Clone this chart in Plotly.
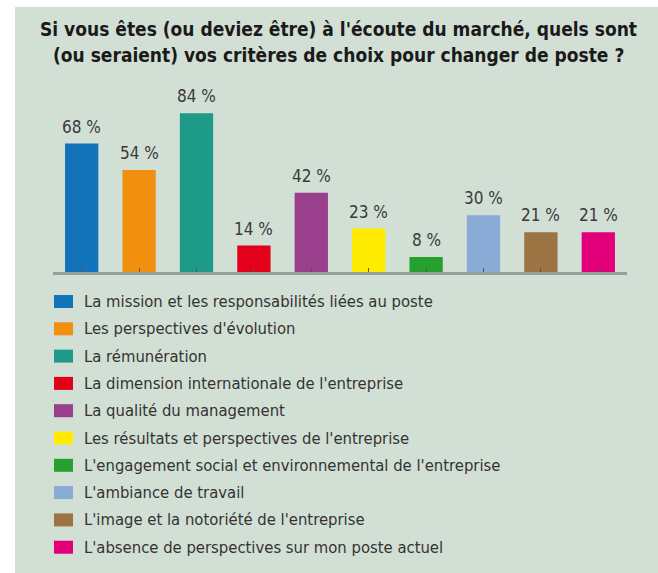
import plotly.graph_objects as go

categories = [
    "La mission et les responsabilités liées au poste",
    "Les perspectives d'évolution",
    "La rémunération",
    "La dimension internationale de l'entreprise",
    "La qualité du management",
    "Les résultats et perspectives de l'entreprise",
    "L'engagement social et environnemental de l'entreprise",
    "L'ambiance de travail",
    "L'image et la notoriété de l'entreprise",
    "L'absence de perspectives sur mon poste actuel",
]
values = [68, 54, 84, 14, 42, 23, 8, 30, 21, 21]
colors = ["#1272BA", "#F0900E", "#1E9A88", "#E2001A", "#9A3F8B",
          "#FFEC00", "#27A030", "#8AABD6", "#9C7342", "#E2007A"]
title_lines = ["Si vous êtes (ou deviez être) à l'écoute du marché, quels sont",
               "(ou seraient) vos critères de choix pour changer de poste ?"]

W, H = 658, 573
PLOT_X0, PLOT_X1, PLOT_Y0, PLOT_Y1 = 53, 627, 80, 272   # window pixels
L, R, T, B = PLOT_X0, W - PLOT_X1, PLOT_Y0, H - PLOT_Y1
PW, PH = W - L - R, H - T - B
FONT = "Liberation Sans Narrow, Arial Narrow, DejaVu Sans Condensed, sans-serif"


def px(x):
    return (x - L) / PW


def py(y):
    return (H - B - y) / PH


fig = go.Figure()
fig.add_trace(go.Bar(
    x=list(range(len(values))), y=values,
    marker=dict(color=colors, line=dict(width=0)),
    width=0.58, showlegend=False, hoverinfo="skip",
))

shapes = [dict(type="rect", xref="paper", yref="paper", layer="below",
               x0=px(15), x1=px(670), y0=py(7), y1=py(590),
               fillcolor="#D2DFD4", line=dict(width=0))]
annotations = []
for i, v in enumerate(values):
    annotations.append(dict(x=i, y=v, xref="x", yref="y", text=f"{v} %",
                            showarrow=False, yanchor="bottom", yshift=5,
                            font=dict(family=FONT, size=17, color="#3a3a3a")))

for i, (c, col) in enumerate(zip(categories, colors)):
    yc = 301.5 + i * 27.3
    shapes.append(dict(type="rect", xref="paper", yref="paper",
                       x0=px(54), x1=px(73), y0=py(yc - 6.5), y1=py(yc + 6.5),
                       fillcolor=col, line=dict(width=0)))
    annotations.append(dict(x=px(82), y=py(yc), xref="paper", yref="paper",
                            text=c, showarrow=False, xanchor="left", yanchor="middle",
                            font=dict(family=FONT, size=16.5, color="#333333")))

for j, (t, yc) in enumerate(zip(title_lines, [29, 55])):
    annotations.append(dict(x=px(338), y=py(yc), xref="paper", yref="paper",
                            text=f"<b>{t}</b>", showarrow=False, xanchor="center",
                            yanchor="middle",
                            font=dict(family=FONT, size=19, color="#1a1a1a")))

fig.update_layout(
    width=W, height=H,
    margin=dict(l=L, r=R, t=T, b=B, pad=0),
    paper_bgcolor="white", plot_bgcolor="rgba(0,0,0,0)",
    xaxis=dict(range=[-0.5, 9.5], showgrid=False, zeroline=False,
               showline=True, linecolor="#9A9E9A", linewidth=3,
               ticks="inside", tickson="boundaries", ticklen=4, tickwidth=1,
               tickcolor="#555555", showticklabels=False,
               tickmode="array", tickvals=list(range(10))),
    yaxis=dict(range=[0, 101.6], visible=False),
    shapes=shapes, annotations=annotations,
)

fig.write_html("out.html",
               config={"displayModeBar": False, "staticPlot": True},
               post_script="document.body.style.margin='0';"
                           "document.body.style.overflow='hidden';")
